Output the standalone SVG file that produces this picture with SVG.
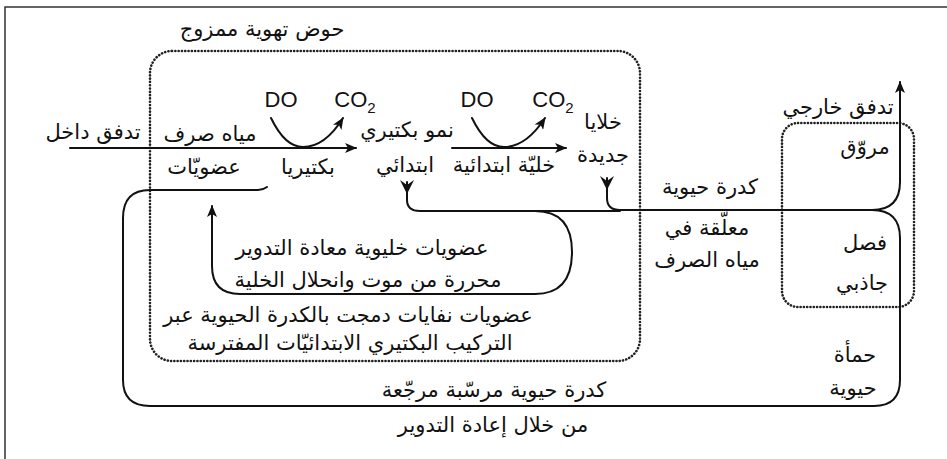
<svg xmlns="http://www.w3.org/2000/svg" width="947" height="459" viewBox="0 0 947 459">
<style>
.ar{font-family:"DejaVu Sans","Noto Sans",sans-serif;font-size:21px;fill:#111;text-anchor:middle}
.en{font-family:"Liberation Sans",Arial,sans-serif;font-size:22px;fill:#111;text-anchor:middle}
.sub{font-size:15px}
.ln{fill:none;stroke:#111;stroke-width:2;stroke-linecap:round}
.dot{fill:none;stroke:#222;stroke-width:2.6;stroke-dasharray:0.1 3.2;stroke-linecap:round}
.frame{fill:none;stroke:#333;stroke-width:1.5}
</style>
<defs>
<marker id="ah" viewBox="0 0 12 10" refX="11" refY="5" markerWidth="12" markerHeight="10" markerUnits="userSpaceOnUse" orient="auto">
<path d="M0,0 L12,5 L0,10 L3,5 Z" fill="#111"/>
</marker>
</defs>
<rect width="947" height="459" fill="#fff"/>
<path class="frame" d="M5,459 V7 H947"/>

<g id="basin">
<rect class="dot" x="150" y="51" width="490" height="310" rx="22"/>
<text class="ar" x="262" y="36">حوض تهوية ممزوج</text>
</g>

<g id="clarifier">
<rect class="dot" x="782" y="123" width="132" height="184" rx="16"/>
<text class="ar" x="865" y="154">مروّق</text>
<text class="ar" x="865" y="250">فصل</text>
<text class="ar" x="862" y="290">جاذبي</text>
</g>

<g id="influent">
<text class="ar" x="93" y="139">تدفق داخل</text>
</g>
<g id="wastewater">
<text class="ar" x="210" y="141">مياه صرف</text>
<text class="ar" x="204" y="174">عضويّات</text>
</g>
<g id="bacteria">
<text class="ar" x="308" y="174">بكتيريا</text>
<text class="en" x="281" y="107">DO</text>
<text class="en" x="355" y="107">CO<tspan class="sub" dy="6">2</tspan></text>
</g>
<g id="protozoa-growth">
<text class="ar" x="407" y="137">نمو بكتيري</text>
<text class="ar" x="405" y="172">ابتدائي</text>
</g>
<g id="protozoa-cell">
<text class="ar" x="504" y="172">خليّة ابتدائية</text>
<text class="en" x="477" y="107">DO</text>
<text class="en" x="553" y="107">CO<tspan class="sub" dy="6">2</tspan></text>
</g>
<g id="new-cells">
<text class="ar" x="603" y="129">خلايا</text>
<text class="ar" x="603" y="162">جديدة</text>
</g>
<g id="suspended">
<text class="ar" x="710" y="194">كدرة حيوية</text>
<text class="ar" x="707" y="235">معلّقة في</text>
<text class="ar" x="707" y="267">مياه الصرف</text>
</g>
<g id="effluent">
<text class="ar" x="838" y="114">تدفق خارجي</text>
</g>
<g id="recycled">
<text class="ar" x="362" y="255">عضويات خليوية معادة التدوير</text>
<text class="ar" x="368" y="287">محررة من موت وانحلال الخلية</text>
</g>
<g id="waste">
<text class="ar" x="348" y="322">عضويات نفايات دمجت بالكدرة الحيوية عبر</text>
<text class="ar" x="350" y="350">التركيب البكتيري الابتدائيّات المفترسة</text>
</g>
<g id="return">
<text class="ar" x="494" y="397">كدرة حيوية مرسّبة مرجّعة</text>
<text class="ar" x="493" y="432">من خلال إعادة التدوير</text>
</g>
<g id="sludge">
<text class="ar" x="855" y="362">حمأة</text>
<text class="ar" x="853" y="395">حيوية</text>
</g>

<g id="connectors">
<path class="ln" d="M70,148 H356" marker-end="url(#ah)"/>
<path class="ln" d="M271,118 Q285,147 303,147 Q325,147 343,118" marker-end="url(#ah)"/>
<path class="ln" d="M452,148 H566" marker-end="url(#ah)"/>
<path class="ln" d="M472,118 Q486,147 504,147 Q526,147 545,118" marker-end="url(#ah)"/>
<path class="ln" d="M607,178 V198 Q607,210 620,210 H872 Q900,210 900,182 V82" marker-end="url(#ah)"/>
<path d="M600,176 L607,190 L614,176 L607,181 Z" fill="#111"/>
<path class="ln" d="M407,182 V200 Q407,211 420,211 H620"/>
<path d="M400,180 L407,194 L414,180 L407,185 Z" fill="#111"/>
<path class="ln" d="M872,210 Q900,210 900,238 V380 Q900,406 874,406 H150 Q123,406 123,380 V218 Q123,190 150,190 H258 Q263,190 267,187"/>
<path class="ln" d="M520,211 H535 Q572,211 572,252 Q572,294 535,294 H240 Q212,294 212,266 V206" marker-end="url(#ah)"/>
</g>
</svg>
